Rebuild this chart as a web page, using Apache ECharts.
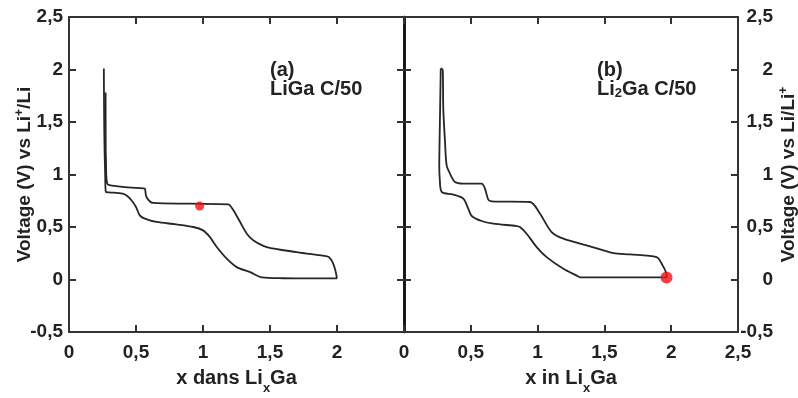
<!DOCTYPE html>
<html><head><meta charset="utf-8">
<script src="https://cdn.jsdelivr.net/npm/echarts@6/dist/echarts.min.js"></script>
<style>html,body{margin:0;padding:0;background:#fff}#c{width:798px;height:398px}</style>
</head><body><div id="c"></div>
<script>
// x ticks and y ticks
const xTicks = [0, 0.5, 1, 1.5, 2, 2.5];
const yTicks = [-0.5, 0, 0.5, 1, 1.5, 2, 2.5];

// Panel (a) LiGa C/50 : discharge (lower branch)
const aDisX = [0.26, 0.261, 0.263, 0.266, 0.27, 0.275, 0.30, 0.40, 0.43, 0.466, 0.50, 0.528, 0.566, 0.653, 0.80, 0.928, 1.00, 1.052, 1.103, 1.177, 1.252, 1.352, 1.44, 1.60, 1.80, 2.00];
const aDisY = [2.01, 1.78, 1.45, 1.20, 1.00, 0.834, 0.83, 0.818, 0.80, 0.755, 0.691, 0.611, 0.58, 0.548, 0.525, 0.50, 0.468, 0.404, 0.309, 0.198, 0.118, 0.07, 0.02, 0.012, 0.01, 0.01];
// Panel (a) charge (upper branch)
const aChX = [2.00, 1.985, 1.965, 1.94, 1.926, 1.70, 1.477, 1.377, 1.327, 1.277, 1.227, 1.202, 1.19, 0.90, 0.628, 0.578, 0.566, 0.553, 0.40, 0.303, 0.285, 0.278, 0.276, 0.274, 0.273];
const aChY = [0.01, 0.10, 0.17, 0.213, 0.22, 0.261, 0.309, 0.372, 0.436, 0.547, 0.659, 0.705, 0.716, 0.722, 0.729, 0.786, 0.866, 0.868, 0.882, 0.898, 0.914, 1.00, 1.137, 1.232, 1.78];
const aDot = [0.975, 0.70];

// Panel (b) Li2Ga C/50 : discharge (lower branch)
const bDisX = [0.275, 0.27, 0.266, 0.264, 0.268, 0.282, 0.369, 0.444, 0.481, 0.507, 0.581, 0.668, 0.843, 0.868, 0.918, 0.993, 1.068, 1.193, 1.305, 1.317, 1.50, 1.70, 1.965];
const bDisY = [2.01, 1.60, 1.30, 1.089, 0.95, 0.834, 0.809, 0.771, 0.675, 0.605, 0.557, 0.532, 0.509, 0.50, 0.436, 0.309, 0.213, 0.102, 0.029, 0.02, 0.02, 0.02, 0.02];
// Panel (b) charge (upper branch)
const bChX = [1.965, 1.966, 1.929, 1.891, 1.692, 1.567, 1.367, 1.193, 1.105, 1.018, 0.943, 0.656, 0.631, 0.606, 0.581, 0.444, 0.382, 0.344, 0.319, 0.307, 0.294, 0.29, 0.275];
const bChY = [0.02, 0.038, 0.15, 0.213, 0.239, 0.251, 0.325, 0.389, 0.452, 0.627, 0.738, 0.745, 0.761, 0.866, 0.914, 0.914, 0.929, 1.009, 1.089, 1.311, 1.63, 1.996, 2.01];
const bDot = [1.965, 0.02];

const FONT = "'Liberation Sans', Arial, sans-serif";
const INK = '#222';
const zip = (xs, ys) => xs.map((x, i) => [x, ys[i]]);
const comma = v => String(v).replace('.', ',');

const chart = echarts.init(document.getElementById('c'), null, {renderer: 'canvas'});

function xAxis(grid, pos, labels, name, hideMax) {
  return {
    type: 'value', gridIndex: grid, position: pos,
    min: xTicks[0], max: xTicks[xTicks.length - 1], interval: 0.5,
    axisLine: {show: true, onZero: false, lineStyle: {color: '#333', width: 2}},
    axisTick: {show: true, inside: true, length: 7, lineStyle: {color: '#333', width: 2}},
    axisLabel: {show: labels, showMaxLabel: !hideMax, margin: 11, formatter: comma,
      fontSize: 19, fontWeight: 'bold', fontFamily: FONT, color: INK},
    splitLine: {show: false},
    name: name || '', nameLocation: 'middle', nameGap: 35, nameMoveOverlap: false,
    nameTextStyle: {fontFamily: FONT, color: INK, rich: {
      m: {fontSize: 20, fontWeight: 'bold', fontFamily: FONT, color: INK, lineHeight: 22},
      s: {fontSize: 13, fontWeight: 'bold', fontFamily: FONT, color: INK, lineHeight: 15, padding: [20, 0, 0, 0]}
    }}
  };
}
function yAxis(grid, pos, labels, lineW, name, opts) {
  opts = opts || {};
  return {
    type: 'value', gridIndex: grid, position: pos,
    min: yTicks[0], max: yTicks[yTicks.length - 1], interval: 0.5,
    axisLine: {show: true, onZero: false, lineStyle: {color: lineW > 2 ? '#111' : '#333', width: lineW}},
    axisTick: {show: true, inside: true, length: 7, lineStyle: {color: '#333', width: 2}},
    axisLabel: Object.assign({show: labels, margin: 6, formatter: comma,
      fontSize: 19, fontWeight: 'bold', fontFamily: FONT, color: INK}, opts.label || {}),
    splitLine: {show: false},
    name: name || '', nameLocation: 'middle', nameRotate: 90, nameGap: opts.gap || 32,
    nameMoveOverlap: false,
    nameTextStyle: {fontFamily: FONT, color: INK, rich: {
      m: {fontSize: 19, fontWeight: 'bold', fontFamily: FONT, color: INK},
      p: {fontSize: 12, fontWeight: 'bold', fontFamily: FONT, color: INK, padding: [0, 0, 10, 0]}
    }}
  };
}

const lineStyle = {color: '#262626', width: 1.8};
function curve(xi, yi, data) {
  return {type: 'line', xAxisIndex: xi, yAxisIndex: yi, data: data, showSymbol: false,
    symbol: 'none', smooth: 0.3, lineStyle: lineStyle, silent: true, z: 3};
}
function dot(xi, yi, p, size) {
  return {type: 'scatter', xAxisIndex: xi, yAxisIndex: yi, data: [p], symbolSize: size,
    itemStyle: {color: '#f01010'}, z: 5, silent: true};
}

chart.setOption({
  animation: false,
  backgroundColor: '#fff',
  grid: [
    {left: 69, top: 17, width: 335, height: 315, containLabel: false, outerBoundsMode: 'none'},
    {left: 404, top: 17, width: 334, height: 315, containLabel: false, outerBoundsMode: 'none'}
  ],
  xAxis: [
    xAxis(0, 'bottom', true, '{m|x dans Li}{s|x}{m|Ga}', true),
    xAxis(0, 'top', false),
    xAxis(1, 'bottom', true, '{m|x in Li}{s|x}{m|Ga}', false),
    xAxis(1, 'top', false)
  ],
  yAxis: [
    yAxis(0, 'left', true, 2, '{m|Voltage (V) vs Li}{p|+}{m|/Li}', {gap: 33}),
    yAxis(0, 'right', false, 2.5),
    yAxis(1, 'left', false, 2.5),
    yAxis(1, 'right', true, 2, '{m|Voltage (V) vs Li/Li}{p|+}', {gap: 40, label: {align: 'right', margin: 35}})
  ],
  graphic: [
    {type: 'text', left: 270, top: 60, style: {text: '(a)', font: 'bold 20px ' + FONT, fill: INK}},
    {type: 'text', left: 270, top: 79, style: {text: 'LiGa C/50', font: 'bold 20px ' + FONT, fill: INK}},
    {type: 'text', left: 597, top: 60, style: {text: '(b)', font: 'bold 20px ' + FONT, fill: INK}},
    {type: 'text', left: 597, top: 79, style: {text: '{m|Li}{s|2}{m|Ga C/50}', rich: {
      m: {fontSize: 20, fontWeight: 'bold', fontFamily: FONT, fill: INK, color: INK, lineHeight: 22},
      s: {fontSize: 13, fontWeight: 'bold', fontFamily: FONT, fill: INK, color: INK, lineHeight: 15, padding: [8, 0, 0, 0]}
    }}}
  ],
  series: [
    curve(0, 0, zip(aDisX, aDisY)),
    curve(0, 0, zip(aChX, aChY)),
    dot(0, 0, aDot, 9),
    curve(2, 3, zip(bDisX, bDisY)),
    curve(2, 3, zip(bChX, bChY)),
    dot(2, 3, bDot, 12)
  ]
});
</script></body></html>
